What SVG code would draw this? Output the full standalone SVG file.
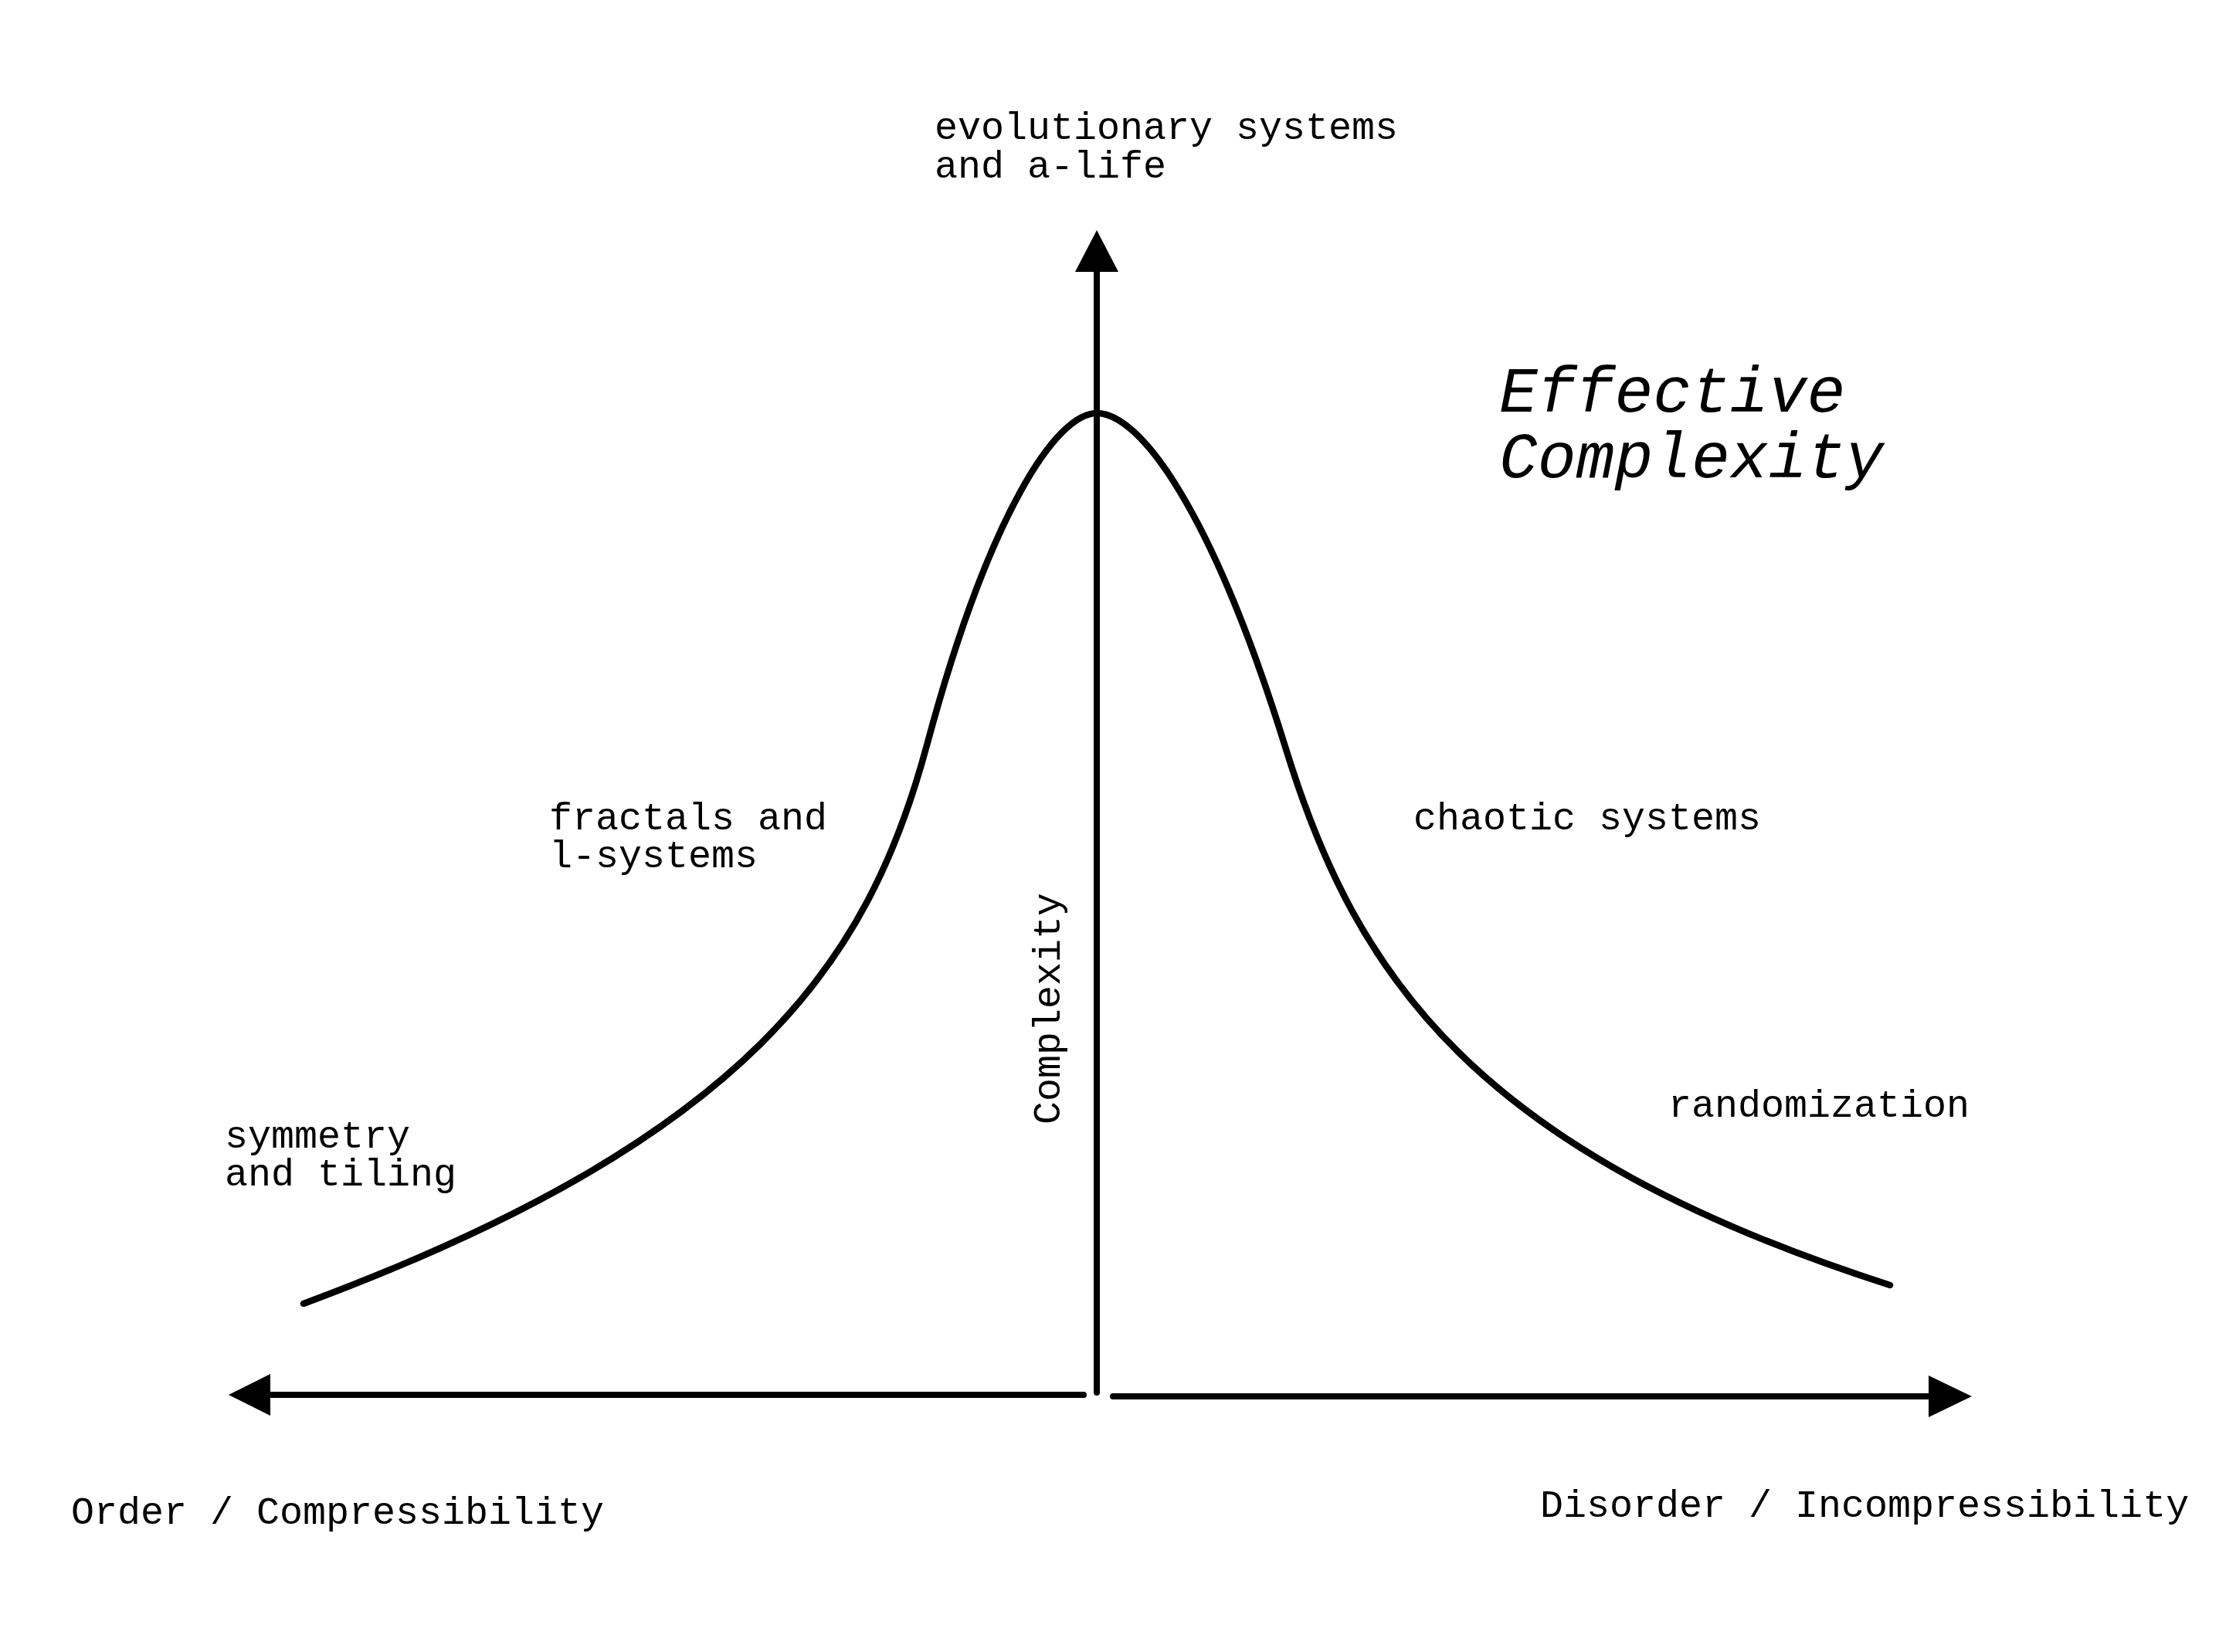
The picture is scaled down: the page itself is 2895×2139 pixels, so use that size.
<svg xmlns="http://www.w3.org/2000/svg" width="2895" height="2139" viewBox="0 0 2895 2139">
<style>
.lbl{font-family:"Liberation Mono","DejaVu Sans Mono",monospace;font-size:50px;fill:#000}
.title{font-family:"Liberation Mono","DejaVu Sans Mono",monospace;font-size:83px;font-style:italic;fill:#000}
.ax{stroke:#000;stroke-width:8;stroke-linecap:round;fill:none}
.curve{stroke:#000;stroke-width:8.5;stroke-linecap:round;fill:none}
.head{fill:#000}
</style>
<rect x="0" y="0" width="2895" height="2139" fill="#fff"/>
<g id="connectors">
<line class="ax" x1="1420" y1="352" x2="1420" y2="1803"/>
<polygon class="head" points="1420,298 1392,352 1448,352"/>
<line class="ax" x1="349" y1="1806" x2="1403" y2="1806"/>
<polygon class="head" points="296,1806 350,1779 350,1833"/>
<line class="ax" x1="1441" y1="1808" x2="2497" y2="1808"/>
<polygon class="head" points="2553,1808 2497,1781 2497,1835"/>
</g>
<g id="curve">
<path class="curve" d="M393,1688 C971,1473 1124,1247 1200,965 C1281,664 1368,535 1420,535 C1475,535 1568,657 1665,970 C1756,1265 1911,1492 2447,1664"/>
</g>
<g id="title">
<text class="title" x="1941" y="533">Effective</text>
<text class="title" x="1941" y="618">Complexity</text>
</g>
<g id="label-evolutionary">
<text class="lbl" x="1210" y="180">evolutionary systems</text>
<text class="lbl" x="1210" y="230">and a-life</text>
</g>
<g id="label-fractals">
<text class="lbl" x="711" y="1074">fractals and</text>
<text class="lbl" x="711" y="1123">l-systems</text>
</g>
<g id="label-chaotic">
<text class="lbl" x="1830" y="1074">chaotic systems</text>
</g>
<g id="label-randomization">
<text class="lbl" x="2160" y="1446">randomization</text>
</g>
<g id="label-symmetry">
<text class="lbl" x="291" y="1486">symmetry</text>
<text class="lbl" x="291" y="1535">and tiling</text>
</g>
<g id="label-complexity-axis">
<text class="lbl" transform="translate(1372,1456) rotate(-90)">Complexity</text>
</g>
<g id="label-order">
<text class="lbl" x="92" y="1973">Order / Compressibility</text>
</g>
<g id="label-disorder">
<text class="lbl" x="1994" y="1964">Disorder / Incompressibility</text>
</g>
</svg>
